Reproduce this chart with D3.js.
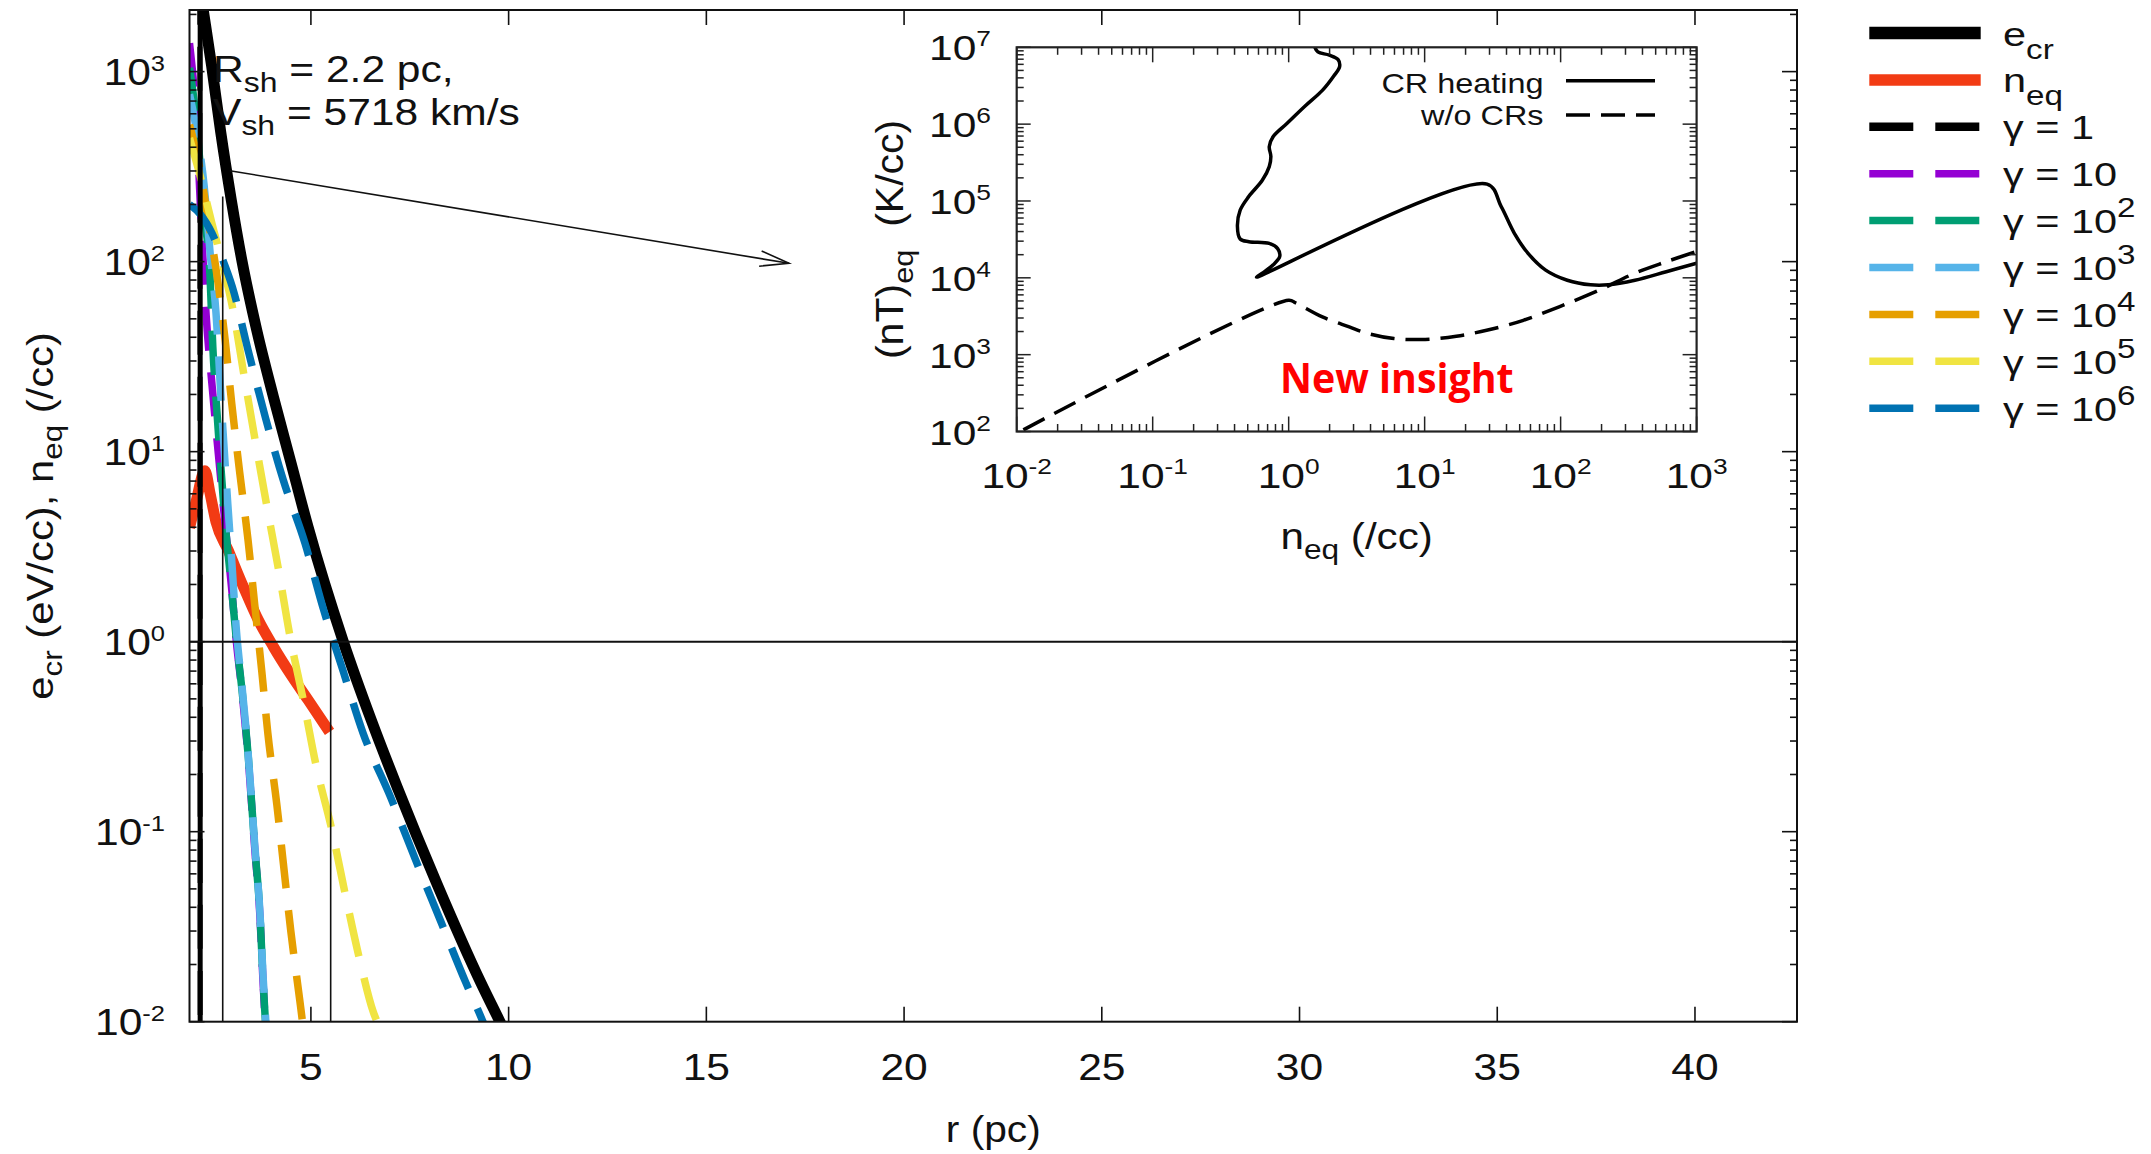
<!DOCTYPE html>
<html>
<head>
<meta charset="utf-8">
<script src="https://cdn.jsdelivr.net/npm/d3@7"></script>
<style>
  html, body { margin: 0; padding: 0; background: #fff; }
  svg { display: block; font-family: "Liberation Sans", Arial, Helvetica, sans-serif; }
</style>
</head>
<body>
<svg id="chart" width="2151" height="1154"></svg>
<script>
// ---------------- data ----------------
// radial ticks (pc) and decade exponents for the log axes
const rTicks = [5, 10, 15, 20, 25, 30, 35, 40];
const eExponents = [-2, -1, 0, 1, 2, 3];
const insetXExponents = [-2, -1, 0, 1, 2, 3];
const insetYExponents = [2, 3, 4, 5, 6, 7];

// shock parameters
const shockRadius = 2.2;     // pc
const shockVelocity = 5718;  // km/s

// total CR energy density e_cr (eV/cc) vs r (pc)
const ecrProfile = [
  [2.20, 2690], [2.28, 2090], [2.49, 1070], [2.72, 479], [2.99, 209], [3.26, 100],
  [3.63, 43.6], [4.05, 19.5], [4.48, 9.0], [4.93, 4.0], [5.82, 1.0], [6.52, 0.39],
  [7.18, 0.172], [8.19, 0.053], [9.30, 0.0160], [9.78, 0.0100], [10.08, 0.0074]
];

// equilibrium density n_eq (/cc) vs r (pc)
const neqProfile = [
  [1.93, 3.98], [2.10, 5.5], [2.32, 7.94], [2.45, 6.03], [2.60, 4.27], [2.91, 3.02],
  [3.29, 1.95], [3.67, 1.30], [4.05, 0.942], [4.47, 0.682], [4.93, 0.493], [5.47, 0.335]
];

// CR energy density per Lorentz factor
const gamma1 = [[2.19, 3000], [2.195, 30], [2.20, 0.005]];
const gamma10 = [
  [1.93, 1413], [2.10, 562], [2.25, 126], [2.35, 52.5], [2.50, 22.4], [2.65, 10.2],
  [2.83, 4.17], [3.00, 1.86], [3.12, 0.977], [3.25, 0.562], [3.41, 0.251], [3.58, 0.0813],
  [3.71, 0.0363], [3.79, 0.0162], [3.85, 0.0095], [3.90, 0.0063]
];
const gamma1e2 = [
  [1.93, 1047], [2.10, 562], [2.30, 178], [2.45, 83], [2.52, 35.5], [2.62, 16.6],
  [2.72, 8.5], [2.825, 4.37], [2.99, 1.95], [3.12, 1.0], [3.25, 0.575], [3.41, 0.257],
  [3.58, 0.0832], [3.71, 0.0372], [3.79, 0.0166], [3.85, 0.0100], [3.90, 0.0066]
];
const gamma1e3 = [
  [1.93, 759], [2.10, 501], [2.30, 251], [2.45, 112], [2.60, 53.7], [2.75, 15.8],
  [2.90, 5.25], [3.00, 2.63], [3.12, 1.12], [3.25, 0.603], [3.41, 0.263], [3.58, 0.0851],
  [3.71, 0.038], [3.79, 0.0174], [3.86, 0.0100], [3.90, 0.0071]
];
const gamma1e4 = [
  [1.93, 525], [2.20, 302], [2.40, 166], [2.63, 83], [2.83, 38.9], [3.00, 17.8],
  [3.20, 7.76], [3.41, 3.43], [3.58, 1.56], [3.76, 0.692], [3.91, 0.331], [4.14, 0.138],
  [4.30, 0.0692], [4.49, 0.0302], [4.72, 0.0129], [4.80, 0.0095], [4.90, 0.0063]
];
const gamma1e5 = [
  [1.93, 447], [2.20, 282], [2.50, 158], [2.75, 100], [3.035, 55], [3.31, 25.1],
  [3.60, 11.2], [3.88, 5.25], [4.19, 2.34], [4.47, 1.07], [4.82, 0.479], [5.12, 0.229],
  [5.54, 0.100], [5.88, 0.0457], [6.24, 0.0209], [6.58, 0.0112], [6.67, 0.0100], [6.80, 0.0079]
];
const gamma1e6 = [
  [1.93, 200], [2.20, 178], [2.50, 141], [2.75, 105], [3.01, 74], [3.43, 33],
  [3.85, 15.1], [4.30, 7.1], [4.85, 3.3], [5.31, 1.5], [5.82, 0.695], [6.32, 0.33],
  [7.02, 0.151], [7.65, 0.0708], [8.28, 0.0339], [8.91, 0.0162], [9.35, 0.0100], [9.60, 0.0074]
];

// guide lines of the main panel
const unitLevel = 1;                 // horizontal reference at e = 1
const guideLeft = [2.77, 220];       // r, upper value of left guide
const guideRight = [5.5, 1];         // r, upper value of right guide
const arrowFrom = [2.95, 301];
const arrowTo = [17.09, 98];

// inset: equilibrium pressure (nT)_eq (K/cc) vs n_eq (/cc)
const crHeating = [
  [1.56, 1.0e7], [1.64, 8.7e6], [1.99, 7.9e6], [2.31, 6.9e6], [2.37, 5.6e6], [2.14, 4.2e6],
  [1.77, 2.75e6], [1.31, 1.7e6], [0.97, 1.02e6], [0.77, 6.9e5], [0.72, 5.1e5], [0.74, 3.8e5],
  [0.72, 2.8e5], [0.64, 1.86e5], [0.51, 1.15e5], [0.44, 7.6e4], [0.42, 4.7e4], [0.44, 3.2e4],
  [0.51, 2.95e4], [0.72, 2.8e4], [0.83, 2.4e4], [0.86, 1.9e4], [0.77, 1.48e4], [0.64, 1.15e4],
  [0.58, 1.02e4], [28.8, 1.66e5], [36.5, 8.5e4], [45.7, 3.8e4], [57.4, 2.1e4], [77.6, 1.26e4],
  [112, 9.3e3], [166, 8.1e3], [224, 8.1e3], [352, 9.3e3], [598, 1.2e4], [1000, 1.55e4]
];
const withoutCRs = [
  [0.0112, 105], [1.0, 5.1e3], [1.13, 4.7e3], [1.77, 3.1e3], [2.79, 2.3e3], [3.78, 1.9e3],
  [5.94, 1.62e3], [10.1, 1.58e3], [17.1, 1.74e3], [29.1, 2.09e3], [53.2, 2.8e3], [97.5, 4.2e3],
  [192, 6.9e3], [352, 1.15e4], [598, 1.62e4], [1000, 2.2e4]
];

// ---------------- drawing ----------------
const svg = d3.select('#chart');
const FONT = 37;

const main = { left: 189.5, right: 1797, top: 10, bottom: 1021.7 };
const x = d3.scaleLinear().domain([1.93, 42.58]).range([main.left, main.right]);
const y = d3.scaleLog().domain([0.01, 2110]).range([main.bottom, main.top]);

const defs = svg.append('defs');
defs.append('clipPath').attr('id', 'mainClip').append('rect')
  .attr('x', main.left).attr('y', main.top)
  .attr('width', main.right - main.left).attr('height', main.bottom - main.top);

// Text with sub/superscripts; glyphs are set slightly wide (sx) like the gnuplot output.
function label(parent, px, py, parts, opts) {
  const size = opts.size, sx = opts.sx || 1, rot = opts.rotate || 0;
  const g = parent.append('g')
    .attr('transform', `translate(${px},${py})` + (rot ? ` rotate(${rot})` : '') + ` scale(${sx},1)`);
  const t = g.append('text')
    .attr('x', 0).attr('y', 0)
    .attr('font-size', size)
    .attr('fill', opts.fill || '#111')
    .attr('text-anchor', opts.anchor || 'start');
  let back = 0; // baseline offset to undo on the next run
  parts.forEach(p => {
    if (typeof p === 'string') {
      const ts = t.append('tspan').attr('font-size', size).text(p);
      if (back) { ts.attr('dy', back); back = 0; }
    } else if (p.sub !== undefined) {
      t.append('tspan').attr('font-size', size * (p.scale || 0.78)).attr('dy', p.shift + back).text(p.sub);
      back = -p.shift;
    } else if (p.sup !== undefined) {
      t.append('tspan').attr('font-size', size * (p.scale || 0.6)).attr('dy', -p.shift + back).text(p.sup);
      back = p.shift;
    }
  });
  return t;
}

const plot = svg.append('g');
const curves = plot.append('g').attr('clip-path', 'url(#mainClip)');

const line = d3.line()
  .x(d => x(d[0])).y(d => y(d[1]))
  .curve(d3.curveMonotoneX);

const series = [
  { key: 'ecr', data: ecrProfile, color: '#000000', width: 11, dash: null, legendWidth: 12.5 },
  { key: 'neq', data: neqProfile, color: '#f23b14', width: 11, dash: null, legendWidth: 11.5 },
  { key: 'g0', data: gamma1, color: '#000000', width: 5, dash: '44 22', legendWidth: 8.5 },
  { key: 'g1', data: gamma10, color: '#9400d3', width: 7.5, dash: '44 22', legendWidth: 7.5 },
  { key: 'g2', data: gamma1e2, color: '#009e73', width: 7.5, dash: '44 22', legendWidth: 7.5 },
  { key: 'g3', data: gamma1e3, color: '#56b4e9', width: 7.5, dash: '44 22', legendWidth: 7.5 },
  { key: 'g4', data: gamma1e4, color: '#e69f00', width: 7.5, dash: '44 22', legendWidth: 7.5 },
  { key: 'g5', data: gamma1e5, color: '#f0e442', width: 7.5, dash: '44 22', legendWidth: 7.5 },
  { key: 'g6', data: gamma1e6, color: '#0072b2', width: 7.5, dash: '44 22', legendWidth: 7.5 }
];

// shock annotation
const ann = plot.append('g');
label(ann, 213, 81.7, ['R', { sub: 'sh', shift: 10, scale: 0.75 }, ` = ${shockRadius} pc,`], { size: FONT, sx: 1.15 });
label(ann, 213, 125, ['V', { sub: 'sh', shift: 10, scale: 0.75 }, ` = ${shockVelocity} km/s`], { size: FONT, sx: 1.15 });

series.forEach(s => {
  curves.append('path')
    .attr('d', line(s.data))
    .attr('fill', 'none')
    .attr('stroke', s.color)
    .attr('stroke-width', s.width)
    .attr('stroke-dasharray', s.dash)
    .attr('stroke-linecap', 'butt')
    .attr('stroke-linejoin', 'round');
});

// guides
const guides = plot.append('g').attr('stroke', '#111').attr('fill', 'none').attr('clip-path', 'url(#mainClip)');
guides.append('line')
  .attr('x1', main.left).attr('x2', main.right)
  .attr('y1', y(unitLevel)).attr('y2', y(unitLevel)).attr('stroke-width', 2);
guides.append('line')
  .attr('x1', x(guideLeft[0])).attr('x2', x(guideLeft[0]))
  .attr('y1', y(guideLeft[1])).attr('y2', main.bottom).attr('stroke-width', 1.6);
guides.append('line')
  .attr('x1', x(guideRight[0])).attr('x2', x(guideRight[0]))
  .attr('y1', y(guideRight[1])).attr('y2', main.bottom).attr('stroke-width', 1.6);
// shock front
guides.append('line')
  .attr('x1', x(shockRadius)).attr('x2', x(shockRadius))
  .attr('y1', main.top).attr('y2', main.bottom).attr('stroke', '#000').attr('stroke-width', 5);

// arrow pointing to the inset
{
  const x1 = x(arrowFrom[0]), y1 = y(arrowFrom[1]);
  const x2 = x(arrowTo[0]), y2 = y(arrowTo[1]);
  const ang = Math.atan2(y2 - y1, x2 - x1);
  const L = 30, spread = 0.26;
  const g = plot.append('g').attr('stroke', '#111').attr('stroke-width', 1.6).attr('fill', 'none');
  g.append('line').attr('x1', x1).attr('y1', y1).attr('x2', x2).attr('y2', y2);
  g.append('path').attr('d', d3.line()([
    [x2 - L * Math.cos(ang - spread), y2 - L * Math.sin(ang - spread)],
    [x2, y2],
    [x2 - L * Math.cos(ang + spread), y2 - L * Math.sin(ang + spread)]
  ]));
}

// frame and ticks
const axes = plot.append('g').attr('stroke', '#111');
axes.append('rect')
  .attr('x', main.left).attr('y', main.top)
  .attr('width', main.right - main.left).attr('height', main.bottom - main.top)
  .attr('fill', 'none').attr('stroke-width', 2);

function isMajor(v) { return Math.abs(Math.log10(v) - Math.round(Math.log10(v))) < 1e-9; }

rTicks.forEach(v => {
  axes.append('line').attr('x1', x(v)).attr('x2', x(v))
    .attr('y1', main.bottom).attr('y2', main.bottom - 15).attr('stroke-width', 1.6);
  axes.append('line').attr('x1', x(v)).attr('x2', x(v))
    .attr('y1', main.top).attr('y2', main.top + 15).attr('stroke-width', 1.6);
});
y.ticks().forEach(v => {
  const len = isMajor(v) ? 15 : 7;
  axes.append('line').attr('x1', main.left).attr('x2', main.left + len)
    .attr('y1', y(v)).attr('y2', y(v)).attr('stroke-width', 1.6);
  axes.append('line').attr('x1', main.right).attr('x2', main.right - len)
    .attr('y1', y(v)).attr('y2', y(v)).attr('stroke-width', 1.6);
});

// tick labels
const labels = plot.append('g');
rTicks.forEach(v => {
  label(labels, x(v), 1080, [String(v)], { size: FONT, sx: 1.15, anchor: 'middle' });
});
eExponents.forEach(e => {
  label(labels, 165, y(Math.pow(10, e)) + 13, ['10', { sup: String(e), shift: 14, scale: 0.6 }],
    { size: FONT, sx: 1.15, anchor: 'end' });
});

// axis titles
label(labels, (main.left + main.right) / 2, 1142, ['r (pc)'], { size: FONT, sx: 1.1, anchor: 'middle' });
label(labels, 53, (main.top + main.bottom) / 2,
  ['e', { sub: 'cr', shift: 9, scale: 0.75 }, ' (eV/cc), n', { sub: 'eq', shift: 9, scale: 0.75 }, ' (/cc)'],
  { size: FONT, sx: 1.13, anchor: 'middle', rotate: -90 });

// ---------------- legend ----------------
const legend = svg.append('g');
const legendLabels = [
  ['e', { sub: 'cr', shift: 13, scale: 0.8 }],
  ['n', { sub: 'eq', shift: 13, scale: 0.8 }],
  ['\u03b3 = 1'],
  ['\u03b3 = 10'],
  ['\u03b3 = 10', { sup: '2', shift: 16, scale: 0.8 }],
  ['\u03b3 = 10', { sup: '3', shift: 16, scale: 0.8 }],
  ['\u03b3 = 10', { sup: '4', shift: 16, scale: 0.8 }],
  ['\u03b3 = 10', { sup: '5', shift: 16, scale: 0.8 }],
  ['\u03b3 = 10', { sup: '6', shift: 16, scale: 0.8 }]
];
series.forEach((s, i) => {
  const ry = 33 + i * 46.9;
  legend.append('line')
    .attr('x1', 1869.3).attr('x2', 1980.7).attr('y1', ry).attr('y2', ry)
    .attr('stroke', s.color).attr('stroke-width', s.legendWidth)
    .attr('stroke-dasharray', s.dash);
  label(legend, 2003, ry + 12.5, legendLabels[i], { size: 34, sx: 1.22 });
});

// ---------------- inset ----------------
const inset = { left: 1016.7, right: 1696.6, top: 47.3, bottom: 431.5 };
const ix = d3.scaleLog().domain([0.01, 1000]).range([inset.left, inset.right]);
const iy = d3.scaleLog().domain([100, 1e7]).range([inset.bottom, inset.top]);

defs.append('clipPath').attr('id', 'insetClip').append('rect')
  .attr('x', inset.left).attr('y', inset.top)
  .attr('width', inset.right - inset.left).attr('height', inset.bottom - inset.top);

const ins = svg.append('g');
ins.append('rect').attr('x', 850).attr('y', 30).attr('width', 900).attr('height', 545).attr('fill', '#fff');

const iline = d3.line().x(d => ix(d[0])).y(d => iy(d[1])).curve(d3.curveCatmullRom.alpha(0.5));
const ic = ins.append('g').attr('clip-path', 'url(#insetClip)').attr('fill', 'none').attr('stroke', '#000')
  .attr('stroke-width', 3.5);
ic.append('path').attr('d', iline(crHeating)).attr('stroke-linejoin', 'round');
ic.append('path').attr('d', iline(withoutCRs)).attr('stroke-dasharray', '24 11');

const iax = ins.append('g').attr('stroke', '#222');
iax.append('rect').attr('x', inset.left).attr('y', inset.top)
  .attr('width', inset.right - inset.left).attr('height', inset.bottom - inset.top)
  .attr('fill', 'none').attr('stroke-width', 2.2);
ix.ticks().forEach(v => {
  const len = isMajor(v) ? 15 : 7.5;
  iax.append('line').attr('x1', ix(v)).attr('x2', ix(v)).attr('y1', inset.bottom).attr('y2', inset.bottom - len).attr('stroke-width', 1.5);
  iax.append('line').attr('x1', ix(v)).attr('x2', ix(v)).attr('y1', inset.top).attr('y2', inset.top + len).attr('stroke-width', 1.5);
});
iy.ticks().forEach(v => {
  const len = isMajor(v) ? 14 : 7;
  iax.append('line').attr('x1', inset.left).attr('x2', inset.left + len).attr('y1', iy(v)).attr('y2', iy(v)).attr('stroke-width', 1.5);
  iax.append('line').attr('x1', inset.right).attr('x2', inset.right - len).attr('y1', iy(v)).attr('y2', iy(v)).attr('stroke-width', 1.5);
});

const il = ins.append('g');
insetXExponents.forEach(e => {
  label(il, ix(Math.pow(10, e)), 488, ['10', { sup: String(e), shift: 14, scale: 0.62 }],
    { size: 36, sx: 1.18, anchor: 'middle' });
});
insetYExponents.forEach(e => {
  label(il, 991, iy(Math.pow(10, e)) + 13, ['10', { sup: String(e), shift: 14, scale: 0.62 }],
    { size: 36, sx: 1.18, anchor: 'end' });
});
label(il, (inset.left + inset.right) / 2, 549, ['n', { sub: 'eq', shift: 10, scale: 0.75 }, ' (/cc)'],
  { size: 37, sx: 1.14, anchor: 'middle' });
label(il, 903, (inset.top + inset.bottom) / 2, ['(nT)', { sub: 'eq', shift: 10, scale: 0.75 }, '\u00a0\u00a0(K/cc)'],
  { size: 38, sx: 1.08, anchor: 'middle', rotate: -90 });

// inset key
label(il, 1543.5, 93.3, ['CR heating'], { size: 27, sx: 1.2, anchor: 'end' });
label(il, 1543.5, 125, ['w/o CRs'], { size: 27, sx: 1.2, anchor: 'end' });
ins.append('line').attr('x1', 1566).attr('x2', 1655).attr('y1', 80.7).attr('y2', 80.7)
  .attr('stroke', '#000').attr('stroke-width', 3.5);
ins.append('line').attr('x1', 1566).attr('x2', 1655).attr('y1', 115).attr('y2', 115)
  .attr('stroke', '#000').attr('stroke-width', 3.5).attr('stroke-dasharray', '24 11');

ins.append('text').attr('x', 1280).attr('y', 392.7)
  .attr('font-family', '"Open Sans", Lato, sans-serif').attr('font-weight', 700)
  .attr('font-size', 41).attr('fill', '#ff0000')
  .attr('textLength', 233.6).attr('lengthAdjust', 'spacingAndGlyphs')
  .text('New insight');
</script>
</body>
</html>
